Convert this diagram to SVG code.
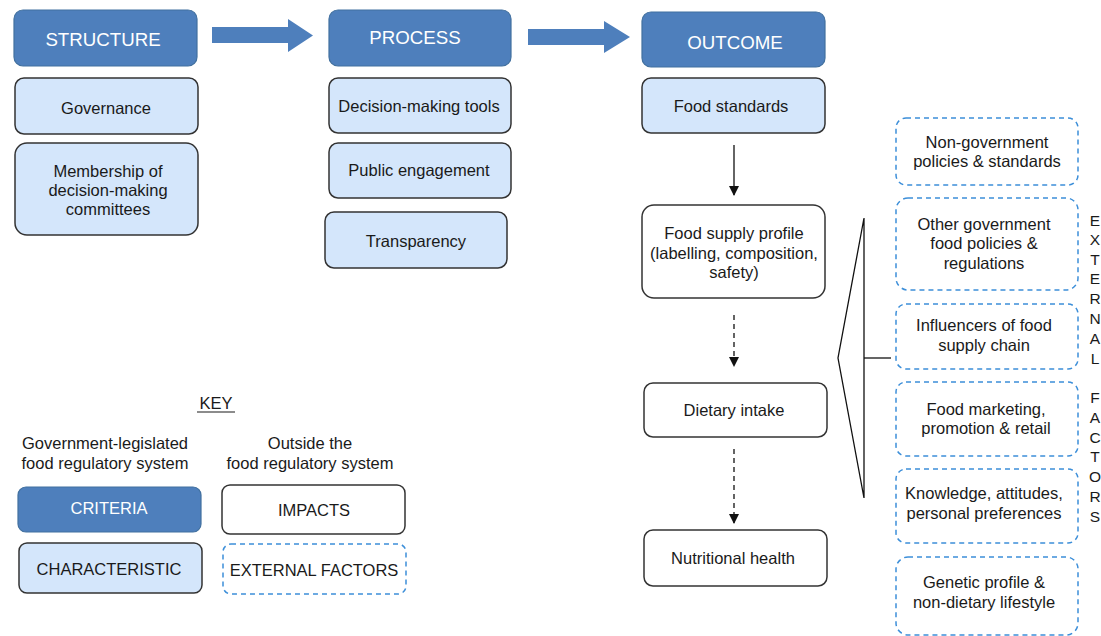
<svg xmlns="http://www.w3.org/2000/svg" width="1101" height="636" viewBox="0 0 1101 636">
<defs>
<style>
text{font-family:"Liberation Sans",Arial,sans-serif;font-size:16.5px;fill:#1a1a1a;text-anchor:middle}
.hdr{fill:#4e7fbc;stroke:#41709f;stroke-width:1.2}
.hdr-t{fill:#ffffff;font-size:18.7px}
.chr{fill:#d4e6fb;stroke:#333;stroke-width:1.5}
.imp{fill:#ffffff;stroke:#333;stroke-width:1.5}
.ext{fill:#ffffff;stroke:#3d8fd9;stroke-width:1.5;stroke-dasharray:5,4}
.big{fill:#4e7fbc}
.ln{stroke:#111;stroke-width:1.3;fill:none}
.dash{stroke-dasharray:5,4}
.let{text-anchor:middle;font-size:15.5px}
</style>
<marker id="ah" markerWidth="10" markerHeight="10" refX="9" refY="5" orient="auto" markerUnits="userSpaceOnUse">
<path d="M0,0 L10,5 L0,10 Z" fill="#111"/>
</marker>
</defs>
<rect width="1101" height="636" fill="#ffffff"/>

<g id="structure"><rect class="hdr" x="14" y="10" width="183" height="56" rx="9"/><text class="hdr-t" x="103" y="45.5">STRUCTURE</text></g>
<g id="governance"><rect class="chr" x="15" y="78" width="183" height="56" rx="9"/><text x="106" y="113.5">Governance</text></g>
<g id="membership"><rect class="chr" x="15" y="143" width="183" height="92" rx="12"/><text x="108" y="176.5">Membership of</text><text x="108" y="195.5">decision-making</text><text x="108" y="214.5">committees</text></g>

<g id="process"><rect class="hdr" x="329" y="10" width="182" height="56" rx="9"/><text class="hdr-t" x="415" y="43.5">PROCESS</text></g>
<g id="tools"><rect class="chr" x="329" y="78" width="182" height="55" rx="9"/><text x="419" y="111.5">Decision-making tools</text></g>
<g id="engagement"><rect class="chr" x="329" y="143" width="182" height="55" rx="9"/><text x="419" y="175.5">Public engagement</text></g>
<g id="transparency"><rect class="chr" x="325" y="212" width="182" height="56" rx="9"/><text x="416" y="246.5">Transparency</text></g>

<g id="outcome"><rect class="hdr" x="642" y="12" width="183" height="55" rx="9"/><text class="hdr-t" x="735" y="48.5">OUTCOME</text></g>
<g id="standards"><rect class="chr" x="642" y="78" width="183" height="55" rx="9"/><text x="731" y="111.5">Food standards</text></g>
<g id="supply"><rect class="imp" x="642" y="205" width="183" height="93" rx="12"/><text x="734" y="238.5">Food supply profile</text><text x="734" y="258.5">(labelling, composition,</text><text x="734" y="277.5">safety)</text></g>
<g id="intake"><rect class="imp" x="644" y="383" width="183" height="54" rx="9"/><text x="734" y="415.5">Dietary intake</text></g>
<g id="health"><rect class="imp" x="644" y="530" width="183" height="56" rx="9"/><text x="733" y="563.5">Nutritional health</text></g>

<g id="ext-nongov"><rect class="ext" x="896" y="118" width="182" height="67" rx="10"/><text x="987" y="147.5">Non-government</text><text x="987" y="166.5">policies &amp; standards</text></g>
<g id="ext-othergov"><rect class="ext" x="896" y="198" width="182" height="92" rx="12"/><text x="984" y="229.5">Other government</text><text x="984" y="248.5">food policies &amp;</text><text x="984" y="268.5">regulations</text></g>
<g id="ext-influencers"><rect class="ext" x="896" y="304" width="182" height="65" rx="10"/><text x="984" y="330.5">Influencers of food</text><text x="984" y="350.5">supply chain</text></g>
<g id="ext-marketing"><rect class="ext" x="896" y="382" width="182" height="74" rx="10"/><text x="986" y="414.5">Food marketing,</text><text x="986" y="433.5">promotion &amp; retail</text></g>
<g id="ext-knowledge"><rect class="ext" x="896" y="469" width="182" height="74" rx="10"/><text x="984" y="498.5">Knowledge, attitudes,</text><text x="984" y="518.5">personal preferences</text></g>
<g id="ext-genetic"><rect class="ext" x="896" y="557" width="182" height="78" rx="12"/><text x="984" y="587.5">Genetic profile &amp;</text><text x="984" y="607.5">non-dietary lifestyle</text></g>

<g id="external-label">
<text class="let" x="1095" y="225.5">E</text><text class="let" x="1095" y="245">X</text><text class="let" x="1095" y="264.5">T</text><text class="let" x="1095" y="284">E</text><text class="let" x="1095" y="303.5">R</text><text class="let" x="1095" y="323.5">N</text><text class="let" x="1095" y="343.5">A</text><text class="let" x="1095" y="363.5">L</text>
<text class="let" x="1095" y="402.5">F</text><text class="let" x="1095" y="422.5">A</text><text class="let" x="1095" y="442.5">C</text><text class="let" x="1095" y="462">T</text><text class="let" x="1095" y="481.5">O</text><text class="let" x="1095" y="501.5">R</text><text class="let" x="1095" y="521.5">S</text>
</g>

<g id="connectors">
<polygon class="big" points="212,27 288,27 288,19 313,35.5 288,52 288,43 212,43"/>
<polygon class="big" points="528,29 604,29 604,21 630,37 604,53 604,45 528,45"/>
<line class="ln" x1="734" y1="145" x2="734" y2="195" marker-end="url(#ah)"/>
<line class="ln dash" x1="734" y1="315" x2="734" y2="366" marker-end="url(#ah)"/>
<line class="ln dash" x1="734" y1="449" x2="734" y2="523" marker-end="url(#ah)"/>
<polyline class="ln" points="864,218 838,358 864,498 864,218"/>
<line class="ln" x1="864" y1="358" x2="891" y2="358"/>
</g>

<g id="key">
<text x="216" y="409" font-size="20">KEY</text>
<line x1="197" y1="412" x2="235" y2="412" stroke="#1a1a1a" stroke-width="1.2"/>
<text x="105" y="448.5">Government-legislated</text><text x="105" y="468.5">food regulatory system</text>
<text x="310" y="448.5">Outside the</text><text x="310" y="468.5">food regulatory system</text>
<g id="key-criteria"><rect class="hdr" x="18" y="487" width="183" height="45" rx="8"/><text x="109" y="513.5" style="fill:#ffffff">CRITERIA</text></g>
<g id="key-impacts"><rect class="imp" x="222" y="485" width="183" height="49" rx="8"/><text x="314" y="515.5">IMPACTS</text></g>
<g id="key-characteristic"><rect class="chr" x="19" y="543" width="183" height="50" rx="8"/><text x="109" y="574.5">CHARACTERISTIC</text></g>
<g id="key-external"><rect class="ext" x="223" y="544" width="183" height="50" rx="8"/><text x="314" y="575.5">EXTERNAL FACTORS</text></g>
</g>
</svg>
